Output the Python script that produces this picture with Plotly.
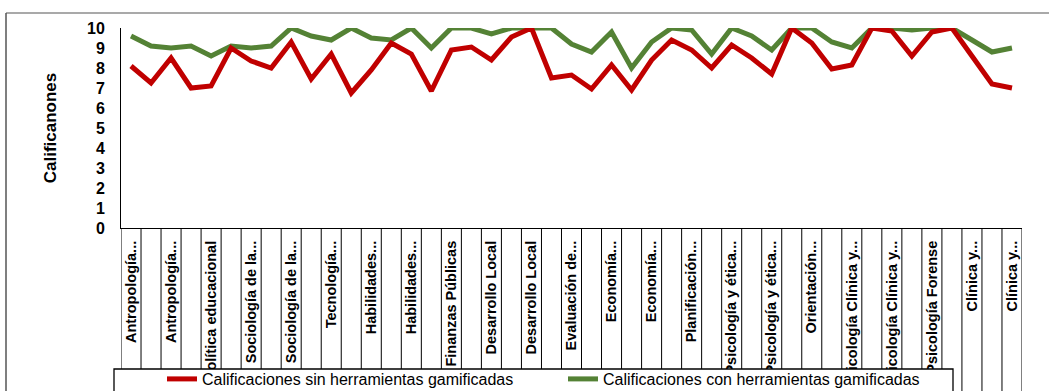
import plotly.graph_objects as go

# ---- data ----
n_points = 45
tick_labels = ["Antropología...", "Antropología...", "Política educacional",
               "Sociología de la...", "Sociología de la...", "Tecnología...",
               "Habilidades...", "Habilidades...", "Finanzas Públicas",
               "Desarrollo Local", "Desarrollo Local", "Evaluación de...",
               "Economía...", "Economía...", "Planificación...",
               "Psicología y ética...", "Psicología y ética...", "Orientación...",
               "Psicología Clínica y...", "Psicología Clínica y...", "Psicología Forense",
               "Clínica y...", "Clínica y..."]
sin_gam = [8.1, 7.25, 8.5, 7.0, 7.1, 9.0, 8.35, 8.0, 9.3, 7.45, 8.7, 6.75, 7.9, 9.25, 8.7,
           6.85, 8.9, 9.05, 8.4, 9.55, 10, 7.5, 7.65, 6.95, 8.15, 6.9, 8.4, 9.4, 8.9, 8.0,
           9.15, 8.5, 7.7, 10, 9.25, 7.95, 8.15, 10, 9.85, 8.6, 9.8, 10, 8.6, 7.2, 7.0]
con_gam = [9.6, 9.1, 9.0, 9.1, 8.6, 9.1, 9.0, 9.1, 10, 9.6, 9.4, 10, 9.5, 9.4, 10,
           9.0, 10, 10, 9.7, 10, 10, 10, 9.2, 8.8, 9.8, 8.0, 9.3, 10, 9.9, 8.7,
           10, 9.6, 8.9, 10, 10, 9.3, 9.0, 10, 10, 9.9, 10, 10, 9.4, 8.8, 9.0]
y_ticks = list(range(0, 11))

x = list(range(n_points))
tick_vals = x[::2]

FONT = "Liberation Sans, Arial, sans-serif"
RED = "#C00000"
GREEN = "#548235"

fig = go.Figure()
fig.add_trace(go.Scatter(x=x, y=con_gam, mode="lines", name="Calificaciones con herramientas gamificadas",
                         line=dict(color=GREEN, width=5), legendrank=2))
fig.add_trace(go.Scatter(x=x, y=sin_gam, mode="lines", name="Calificaciones sin herramientas gamificadas",
                         line=dict(color=RED, width=5), legendrank=1))

W, H = 1049, 391
L, R, T, B = 121, 27, 28, 163
pw, ph = W - L - R, H - T - B

def px_x(p):
    return (p - L) / pw

def px_y(p):
    return (H - B - p) / ph

shapes = []
# category separators below the axis
for k in range(n_points + 1):
    shapes.append(dict(type="line", xref="x", yref="paper", x0=k - 0.5, x1=k - 0.5,
                       y0=0, y1=px_y(H + 5), line=dict(color="black", width=1), layer="above"))
# legend box (white, covers overflow)
shapes.append(dict(type="rect", xref="paper", yref="paper", x0=px_x(114), x1=px_x(953),
                   y0=px_y(369), y1=px_y(H + 10), fillcolor="white",
                   line=dict(color="black", width=1.3), layer="above"))
# outer chart border (top and left)
shapes.append(dict(type="line", xref="paper", yref="paper", x0=px_x(6), x1=px_x(W + 5),
                   y0=px_y(13), y1=px_y(13), line=dict(color="#8c8c8c", width=1.5), layer="above"))
shapes.append(dict(type="line", xref="paper", yref="paper", x0=px_x(6), x1=px_x(6),
                   y0=px_y(13), y1=px_y(H + 5), line=dict(color="#555555", width=1.5), layer="above"))

fig.update_layout(
    width=W, height=H,
    margin=dict(l=L, r=R, t=T, b=B, autoexpand=False),
    paper_bgcolor="white", plot_bgcolor="white",
    font=dict(family=FONT, color="black"),
    shapes=shapes,
    showlegend=True,
    legend=dict(orientation="h", x=px_x(162), y=px_y(362), xanchor="left", yanchor="top",
                bgcolor="rgba(0,0,0,0)", borderwidth=0,
                font=dict(family=FONT, size=16, color="black"),
                entrywidth=356, entrywidthmode="pixels", itemwidth=30),
    xaxis=dict(range=[-0.5, n_points - 0.5], tickmode="array", tickvals=tick_vals,
               ticktext=tick_labels, tickangle=-90, showgrid=False, zeroline=False,
               showline=True, linecolor="black", linewidth=1, ticks="",
               ticklabelstandoff=6,
               tickfont=dict(family=FONT, size=14.5, color="black", weight="bold")),
    yaxis=dict(range=[0, 10], tickmode="array", tickvals=y_ticks, showgrid=False,
               zeroline=False, showline=True, linecolor="black", linewidth=1, ticks="",
               ticklabelstandoff=12,
               tickfont=dict(family=FONT, size=16, color="black", weight="bold"),
               title=dict(text="Calificanones", standoff=26,
                          font=dict(family=FONT, size=17, color="black", weight="bold"))),
)

fig.write_html("out.html")
